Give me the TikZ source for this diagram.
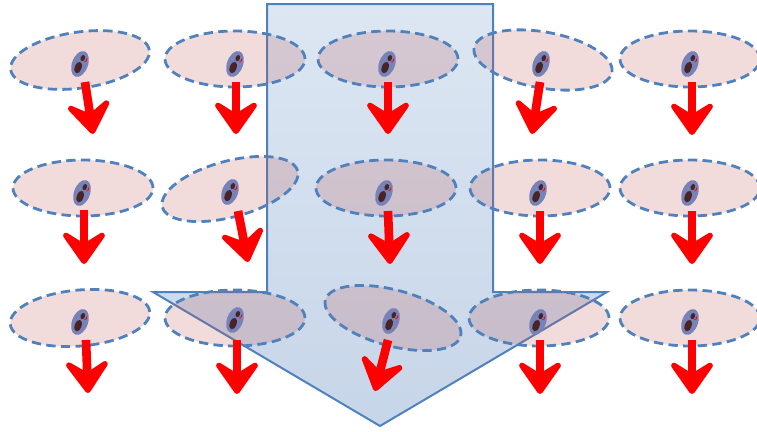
\documentclass[tikz,border=0pt]{standalone}
\usetikzlibrary{shapes.geometric,arrows.meta}

\definecolor{spinblue}{RGB}{79,129,189}
\definecolor{spinpink}{RGB}{192,80,77}
\definecolor{shaftlight}{RGB}{221,231,243}
\definecolor{shaftdark}{RGB}{198,213,232}
\definecolor{shell}{RGB}{118,130,184}
\definecolor{core}{RGB}{72,36,38}

\tikzset{
  grain/.style={ellipse, draw=spinblue, line width=2.1pt,
    dash pattern=on 7pt off 4pt, fill=spinpink, fill opacity=0.2,
    minimum width=105pt, minimum height=42pt, inner sep=0pt},
  moment/.style={draw=red, line width=6.5pt,
    -{Stealth[length=30pt,width=42pt,inset=13pt,round]}},
  spin/.pic={
    \fill[shell] (0,0) ellipse (8 and 13.5);
    \fill[core] (-0.5,4) ellipse (3.4 and 6);
    \fill[core] (0.6,-6.5) ellipse (2.2 and 3.2);
    \draw[red, line width=0.6pt] (3.5,-3.5) arc (60:-30:3);
  }
}

\begin{document}
\begin{tikzpicture}[x=0.75pt,y=-0.75pt]

\useasboundingbox (0,0) rectangle (757,432);

% big field arrow
\coordinate (A) at (267,4);
\coordinate (B) at (493,4);
\coordinate (C) at (493,292);
\coordinate (D) at (607,292);
\coordinate (E) at (380,426);
\coordinate (F) at (153,292);
\coordinate (G) at (267,292);

\path [draw=spinblue, line width=1.5pt, top color=shaftlight, bottom color=shaftdark]
(A)--(B)--(C)--(D)--(E)--(F)--(G)--cycle;

% grains
\node [grain, rotate=8] (e11) at (80,60) {};
\node [grain] (e12) at (235,59) {};
\node [grain] (e13) at (388,59) {};
\node [grain, rotate=-10] (e14) at (543,60) {};
\node [grain] (e15) at (690,59) {};

\node [grain] (e21) at (83,188) {};
\node [grain, rotate=15] (e22) at (230,189) {};
\node [grain] (e23) at (386,188) {};
\node [grain] (e24) at (540,188) {};
\node [grain] (e25) at (690,188) {};

\node [grain, rotate=5] (e31) at (80,318) {};
\node [grain] (e32) at (235,318) {};
\node [grain, rotate=-15] (e33) at (393,318) {};
\node [grain] (e34) at (539,318) {};
\node [grain] (e35) at (690,318) {};

% spins
\pic [rotate=-20] at (80,64) {spin};
\pic [rotate=-20] at (235,64) {spin};
\pic [rotate=-20] at (387,64) {spin};
\pic [rotate=-20] at (541,64) {spin};
\pic [rotate=-20] at (690,64) {spin};

\pic [rotate=-20] at (82,193) {spin};
\pic [rotate=-20] at (230,192) {spin};
\pic [rotate=-20] at (384,193) {spin};
\pic [rotate=-20] at (538,193) {spin};
\pic [rotate=-20] at (690,193) {spin};

\pic [rotate=-20] at (80,322) {spin};
\pic [rotate=-20] at (235,320) {spin};
\pic [rotate=-20] at (391,321) {spin};
\pic [rotate=-20] at (538,322) {spin};
\pic [rotate=-20] at (690,322) {spin};

% moments
\coordinate (s11) at (85,82);   \coordinate (t11) at (93,134);
\coordinate (s12) at (236,82);  \coordinate (t12) at (236,134);
\coordinate (s13) at (388,82);  \coordinate (t13) at (388,134);
\coordinate (s14) at (540,82);  \coordinate (t14) at (532,134);
\coordinate (s15) at (692,82);  \coordinate (t15) at (692,135);

\coordinate (s21) at (84,210);  \coordinate (t21) at (84,264);
\coordinate (s22) at (238,211); \coordinate (t22) at (248,262);
\coordinate (s23) at (388,211); \coordinate (t23) at (390,264);
\coordinate (s24) at (540,211); \coordinate (t24) at (540,264);
\coordinate (s25) at (692,211); \coordinate (t25) at (692,264);

\coordinate (s31) at (86,340);  \coordinate (t31) at (88,393);
\coordinate (s32) at (237,340); \coordinate (t32) at (237,394);
\coordinate (s33) at (388,340); \coordinate (t33) at (375,391);
\coordinate (s34) at (540,340); \coordinate (t34) at (540,394);
\coordinate (s35) at (692,340); \coordinate (t35) at (692,394);

\draw [moment] (s11) -- (t11);
\draw [moment] (s12) -- (t12);
\draw [moment] (s13) -- (t13);
\draw [moment] (s14) -- (t14);
\draw [moment] (s15) -- (t15);

\draw [moment] (s21) -- (t21);
\draw [moment] (s22) -- (t22);
\draw [moment] (s23) -- (t23);
\draw [moment] (s24) -- (t24);
\draw [moment] (s25) -- (t25);

\draw [moment] (s31) -- (t31);
\draw [moment] (s32) -- (t32);
\draw [moment] (s33) -- (t33);
\draw [moment] (s34) -- (t34);
\draw [moment] (s35) -- (t35);

\end{tikzpicture}
\end{document}
